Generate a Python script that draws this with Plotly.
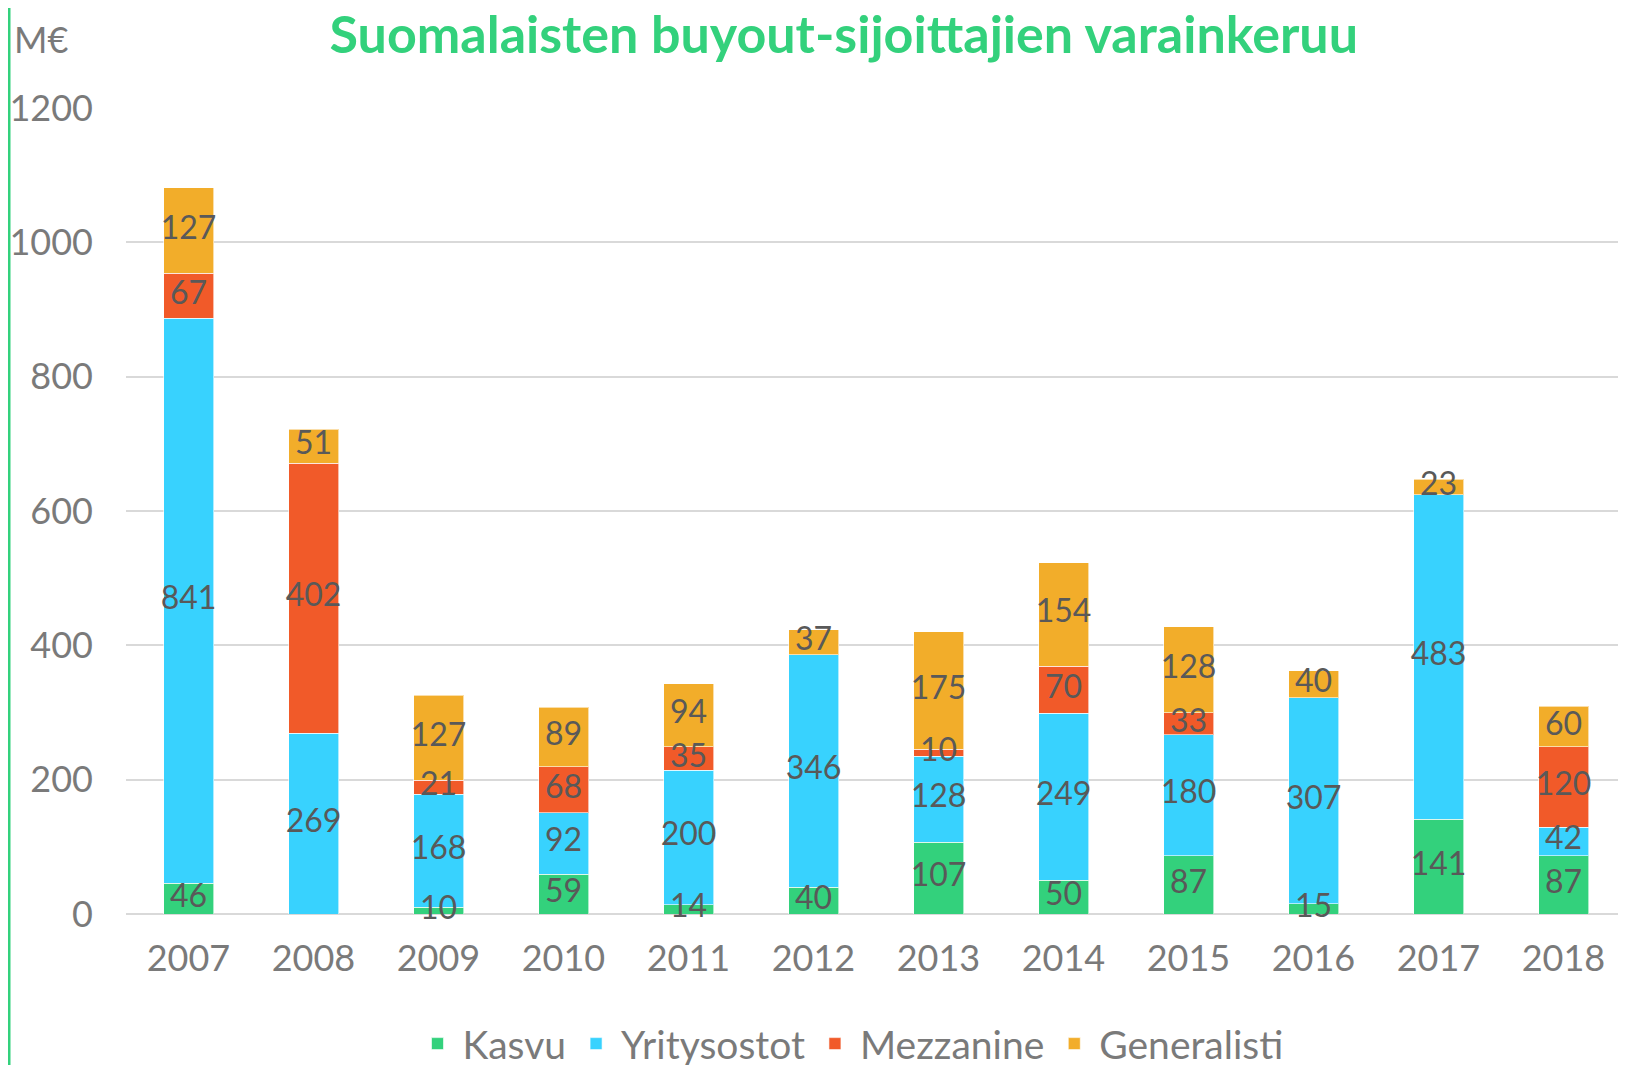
import plotly.graph_objects as go

years = ["2007", "2008", "2009", "2010", "2011", "2012",
         "2013", "2014", "2015", "2016", "2017", "2018"]
kasvu = [46, 0, 10, 59, 14, 40, 107, 50, 87, 15, 141, 87]
yritysostot = [841, 269, 168, 92, 200, 346, 128, 249, 180, 307, 483, 42]
mezzanine = [67, 402, 21, 68, 35, 0, 10, 70, 33, 0, 0, 120]
generalisti = [127, 51, 127, 89, 94, 37, 175, 154, 128, 40, 23, 60]

series = [
    ("Kasvu", kasvu, "#33D17C"),
    ("Yritysostot", yritysostot, "#38D2FE"),
    ("Mezzanine", mezzanine, "#F15A29"),
    ("Generalisti", generalisti, "#F2AD2A"),
]

FONT = "Lato"
GRAY = "#7a7a7a"
LABEL = "#595959"

fig = go.Figure()
for name, vals, col in series:
    fig.add_trace(go.Bar(
        x=years, y=vals, name=name,
        marker=dict(color=col, line=dict(color="rgba(255,255,255,0.6)", width=1)),
    ))

# value labels drawn above all bars, centred in each segment
base = [0] * len(years)
for name, vals, col in series:
    mids = [b + v / 2 for b, v in zip(base, vals)]
    fig.add_trace(go.Scatter(
        x=years, y=mids, mode="text", showlegend=False, hoverinfo="skip",
        text=[str(v) if v else "" for v in vals], cliponaxis=False,
        textfont=dict(family=FONT, size=32, color=LABEL),
    ))
    base = [b + v for b, v in zip(base, vals)]

# page has an 8px body margin, so the figure is shifted by 8px;
# figure is a bit taller than the window so the legend doesn't squeeze the plot
H = 1081
fig.update_layout(
    barmode="stack", bargap=0.6,
    width=1626, height=H,
    margin=dict(l=118, r=8, t=100, b=H - 906),
    plot_bgcolor="white", paper_bgcolor="white",
    font=dict(family=FONT, color=GRAY, size=36),
    title=dict(text="<b>Suomalaisten buyout-sijoittajien varainkeruu</b>",
               x=0.514, xanchor="center", y=1 - 27 / H, yanchor="middle",
               font=dict(family=FONT, size=52, color="#33D17C")),
    legend=dict(orientation="h", x=0.483, xanchor="center", y=-0.161, yanchor="middle",
                font=dict(family=FONT, size=39, color=GRAY), traceorder="normal",
                itemwidth=40),
    showlegend=True,
)
fig.update_xaxes(range=[-0.5, 11.5], showgrid=False, showline=False, ticks="",
                 automargin=False, tickfont=dict(size=36, color=GRAY),
                 ticklabelstandoff=20)
fig.update_yaxes(range=[0, 1200], dtick=200, showgrid=True, gridcolor="#D9D9D9",
                 gridwidth=2, zeroline=True, zerolinecolor="#D9D9D9", zerolinewidth=2,
                 automargin=False, tickfont=dict(size=36, color=GRAY),
                 ticklabelstandoff=32)

fig.add_annotation(text="M€", xref="paper", yref="paper", x=-0.057, y=1.086,
                   xanchor="center", yanchor="middle", showarrow=False,
                   font=dict(family=FONT, size=36, color=GRAY))
fig.add_shape(type="line", xref="paper", yref="paper", x0=-0.078, x1=-0.078,
              y0=-0.25, y1=1.2, line=dict(color="#33D17C", width=3))

fig.write_html("out.html")
